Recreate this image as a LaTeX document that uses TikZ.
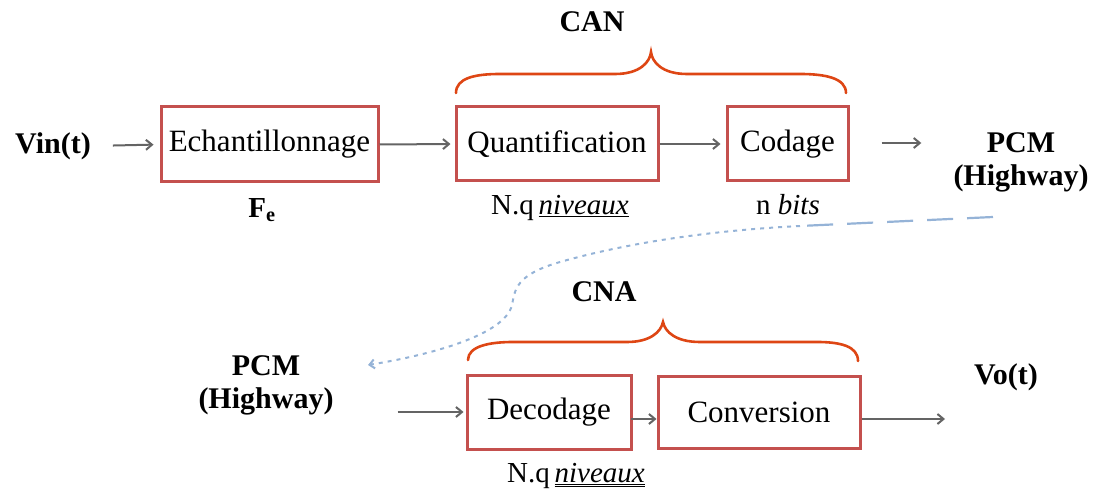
\documentclass[tikz,border=0pt]{standalone}
\usepackage{fontspec}
\setmainfont{Liberation Serif}
\usetikzlibrary{arrows.meta}
\definecolor{boxred}{RGB}{196,80,78}
\definecolor{bracered}{RGB}{222,70,20}
\definecolor{arrgray}{RGB}{100,100,100}
\definecolor{lineblue}{RGB}{149,179,215}
\tikzset{
  blk/.style={draw=boxred, line width=3pt, inner sep=0pt, font=\fontsize{31}{34}\selectfont},
  lbl/.style={inner sep=0pt, font=\fontsize{30}{33}\selectfont\bfseries, align=center},
  sub/.style={inner sep=0pt, font=\fontsize{29}{32}\selectfont},
  conn/.style={draw=arrgray, line width=2pt, -{Straight Barb[length=6pt,width=10pt]}},
  brc/.style={draw=bracered, line width=2.6pt, line cap=round},
}
\begin{document}
\begin{tikzpicture}[x=1pt,y=-1pt]
\useasboundingbox (0,0) rectangle (1101,497);
% top row
\node[lbl] (vin) at (53,146) {Vin(t)};
\node[blk, minimum width=217pt, minimum height=75pt] (E) at (269.5,144.5) {Echantillonnage};
\node[blk, minimum width=202pt, minimum height=74pt] (Q) at (557,144) {Quantification};
\node[blk, minimum width=121pt, minimum height=74pt] (C) at (787.5,144) {Codage};
\node[lbl] (P1) at (1021,162) {PCM\\(Highway)};
\node[lbl] (can) at (592,22) {CAN};
\node[sub] (fe) at (262,210) {\textbf{F}\textsubscript{\textbf{e}}};
\node[sub] (nq1) at (560,208) {N.q\,\underline{\textit{niveaux}}};
\node[sub] (nb) at (788,205) {n \textit{bits}};
% bottom row
\node[lbl] (P2) at (266,385) {PCM\\(Highway)};
\node[blk, minimum width=164pt, minimum height=74pt] (D) at (549,412) {Decodage};
\node[blk, minimum width=202pt, minimum height=72pt] (Cv) at (759,412) {Conversion};
\node[lbl] (vo) at (1006,377) {Vo(t)};
\node[lbl] (cna) at (604,292) {CNA};
\node[sub] (nq2) at (576,476) {N.q\,$\underline{\underline{\hbox{\textit{niveaux}}}}$};
\coordinate (out) at (945,419);
% connectors
\draw[conn, shorten <=22pt, shorten >=6pt] (vin.east) -- (E.west);
\draw[conn, shorten >=4pt] (E.east) -- (Q.west);
\draw[conn, shorten >=5pt] (Q.east) -- (C.west);
\draw[conn, shorten <=32pt, shorten >=32pt] ([yshift=1pt]C.east) -- ([yshift=1pt]P1.west |- C.east);
\draw[conn, shorten <=64pt, shorten >=2pt] (P2.east |- D.west) -- (D.west);
\draw[conn, shorten <=-2pt] ([yshift=-7pt]D.east) -- ([yshift=-7pt]Cv.west);
\draw[conn] ([yshift=-7pt]Cv.east) -- (out);
% braces
\draw[brc] (456,93) .. controls (456,78) and (475,74) .. (500,74) -- (615,74)
  .. controls (640,74) and (650,62) .. (651,52)
  .. controls (652,62) and (662,74) .. (687,74) -- (800,74)
  .. controls (825,74) and (846,78) .. (846,93);
\draw[brc] (468,360) .. controls (468,346) and (490,342) .. (513,342) -- (627,342)
  .. controls (650,342) and (661,332) .. (663,322)
  .. controls (665,332) and (676,342) .. (700,342) -- (817,342)
  .. controls (840,342) and (858,346) .. (858,361);
% blue link
\coordinate (b0) at (993,217);
\coordinate (b1) at (800,226);
\draw[lineblue, line width=2.2pt, dash pattern=on 26pt off 14pt] (b0) -- (b1);
\draw[lineblue, line width=2pt, dash pattern=on 4pt off 5pt, -{Straight Barb[length=5pt,width=9pt]}]
  (b1) .. controls (700,231) and (620,245) .. (560,262)
  .. controls (515,275) and (515,290) .. (512,305)
  .. controls (505,335) and (430,355) .. (368,365);
\end{tikzpicture}
\end{document}
